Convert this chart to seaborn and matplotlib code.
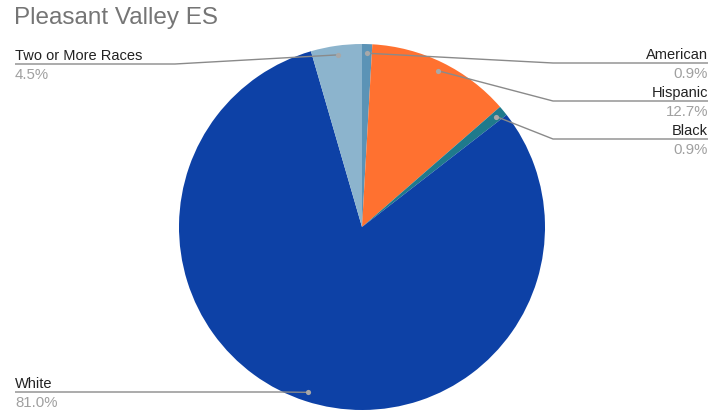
import numpy as np
import matplotlib
matplotlib.use("Agg")
import matplotlib.pyplot as plt
import seaborn as sns

# Enrollment share by race/ethnicity
categories = ["American", "Hispanic", "Black", "White", "Two or More Races"]
shares = [0.9, 12.7, 0.9, 81.0, 4.5]
pct_labels = ["0.9%", "12.7%", "0.9%", "81.0%", "4.5%"]
colors = ["#5b93b6", "#ff7130", "#1f7a8c", "#0d41a6", "#8cb4cd"]

sns.set_theme(style="white")
plt.rcParams["font.family"] = ["Liberation Sans", "DejaVu Sans"]

W, H = 722, 414
fig = plt.figure(figsize=(W / 100, H / 100), dpi=100)
ax = fig.add_axes([0, 0, 1, 1])

cx, cy, r = 362, H - 228, 183
wedges, _ = ax.pie(shares, colors=colors, startangle=90, counterclock=False,
                   center=(cx, cy), radius=r, frame=True,
                   wedgeprops=dict(linewidth=0))
ax.set_xlim(0, W)
ax.set_ylim(0, H)
ax.set_aspect("equal")
ax.axis("off")

# leader-line layout: side, y of the horizontal run (image coords), bend x
layout = {
    "American": ("right", 64, 553),
    "Hispanic": ("right", 102, 553),
    "Black": ("right", 140, 553),
    "White": ("left", 393, 280),
    "Two or More Races": ("left", 65, 175),
}

line_col = "#8a8a8a"
start = 0.0
for cat, s, pl in zip(categories, shares, pct_labels):
    mid = (start + s / 2) / 100 * 2 * np.pi
    start += s
    px = cx + 0.95 * r * np.sin(mid)
    py = cy + 0.95 * r * np.cos(mid)
    side, ly, bx = layout[cat]
    ly = H - ly
    if side == "right":
        xe, ha = 708, "right"
    else:
        xe, ha = 15, "left"
    ax.plot([px, bx, xe], [py, ly, ly], color=line_col, lw=1.0,
            solid_capstyle="butt", zorder=3)
    ax.scatter([px], [py], s=14, color="#a8a8a8", zorder=4, linewidths=0)
    ax.text(xe, ly + 2, cat, ha=ha, va="bottom", fontsize=10.5, color="#222222")
    ax.text(xe, ly - 3, pl, ha=ha, va="top", fontsize=10.8, color="#a0a0a0")

ax.text(14, H - 18, "Pleasant Valley ES", ha="left", va="center",
        fontsize=17.5, color="#757575")

fig.savefig("out.png", dpi=100)
